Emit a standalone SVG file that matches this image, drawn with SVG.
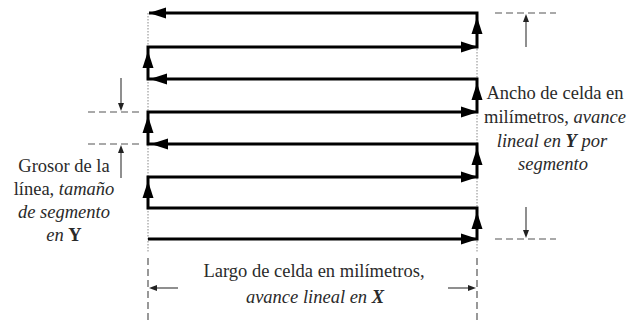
<svg xmlns="http://www.w3.org/2000/svg" width="629" height="324" viewBox="0 0 629 324">
<style>
.path{fill:none;stroke:#000;stroke-width:3;stroke-linejoin:miter;stroke-linecap:butt}
.guide{fill:none;stroke:#888;stroke-width:1;stroke-dasharray:1.5 1.5}
.dash{fill:none;stroke:#555;stroke-width:1.2;stroke-dasharray:7 4}
.dim{fill:none;stroke:#333;stroke-width:1.1}
.ah{fill:#000}
.th{fill:#222}
text{font-family:"Liberation Serif","Times New Roman",serif;font-size:18.5px;fill:#2a2a2a;text-anchor:middle}
.i{font-style:italic}
.b{font-weight:bold}
</style>
<defs>
<path id="ah" d="M0,0 L-17,-5.5 L-17,5.5 Z"/>
<path id="th" d="M0,0 L-8,-3 L-8,3 Z"/>
</defs>
<g id="guides">
<line class="guide" x1="148" y1="13" x2="148" y2="252"/>
<line class="guide" x1="477" y1="13" x2="477" y2="252"/>
</g>
<g id="connectors">
<path class="path" d="M148,239 H477 V208 H148 V177 H477 V144 H148 V112 H477 V79 H148 V47 H477 V13 H149"/>
<g class="ah">
<use href="#ah" transform="translate(478,239)"/>
<use href="#ah" transform="translate(478,177)"/>
<use href="#ah" transform="translate(478,112)"/>
<use href="#ah" transform="translate(478,47)"/>
<use href="#ah" transform="translate(149,13) rotate(180)"/>
<use href="#ah" transform="translate(150,79) rotate(180)"/>
<use href="#ah" transform="translate(151,144) rotate(180)"/>
<use href="#ah" transform="translate(477,212) rotate(-90)"/>
<use href="#ah" transform="translate(477,148) rotate(-90)"/>
<use href="#ah" transform="translate(477,83) rotate(-90)"/>
<use href="#ah" transform="translate(477,17) rotate(-90)"/>
<use href="#ah" transform="translate(148,181) rotate(-90)"/>
<use href="#ah" transform="translate(148,116) rotate(-90)"/>
<use href="#ah" transform="translate(148,51) rotate(-90)"/>
</g>
</g>
<g id="dim-right">
<line class="dash" x1="495" y1="13" x2="556" y2="13"/>
<line class="dash" x1="495" y1="239" x2="556" y2="239"/>
<line class="dim" x1="526" y1="47" x2="526" y2="20"/>
<use class="th" href="#th" transform="translate(526,14) rotate(-90)"/>
<line class="dim" x1="526" y1="207" x2="526" y2="232"/>
<use class="th" href="#th" transform="translate(526,238) rotate(90)"/>
</g>
<g id="dim-left">
<line class="dash" x1="88" y1="112" x2="139" y2="112"/>
<line class="dash" x1="88" y1="144" x2="139" y2="144"/>
<line class="dim" x1="121" y1="78" x2="121" y2="105"/>
<use class="th" href="#th" transform="translate(121,111) rotate(90)"/>
<line class="dim" x1="121" y1="178" x2="121" y2="151"/>
<use class="th" href="#th" transform="translate(121,145) rotate(-90)"/>
</g>
<g id="dim-bottom">
<line class="dash" x1="148" y1="258" x2="148" y2="322"/>
<line class="dash" x1="477" y1="258" x2="477" y2="322"/>
<line class="dim" x1="178" y1="288" x2="155" y2="288"/>
<use class="th" href="#th" transform="translate(149,288) rotate(180)"/>
<line class="dim" x1="448" y1="288" x2="470" y2="288"/>
<use class="th" href="#th" transform="translate(476,288)"/>
</g>
<g id="label-left">
<text x="64" y="172">Grosor de la</text>
<text x="64" y="195">línea, <tspan class="i">tamaño</tspan></text>
<text x="64" y="218" class="i">de segmento</text>
<text x="64" y="241"><tspan class="i">en </tspan><tspan class="b">Y</tspan></text>
</g>
<g id="label-right">
<text x="555" y="99">Ancho de celda en</text>
<text x="555" y="123">milímetros, <tspan class="i">avance</tspan></text>
<text x="552" y="147" class="i">lineal en <tspan class="b">Y</tspan> por</text>
<text x="553" y="170" class="i">segmento</text>
</g>
<g id="label-bottom">
<text x="314" y="277">Largo de celda en milímetros,</text>
<text x="315" y="303" class="i">avance lineal en <tspan class="b">X</tspan></text>
</g>
</svg>
